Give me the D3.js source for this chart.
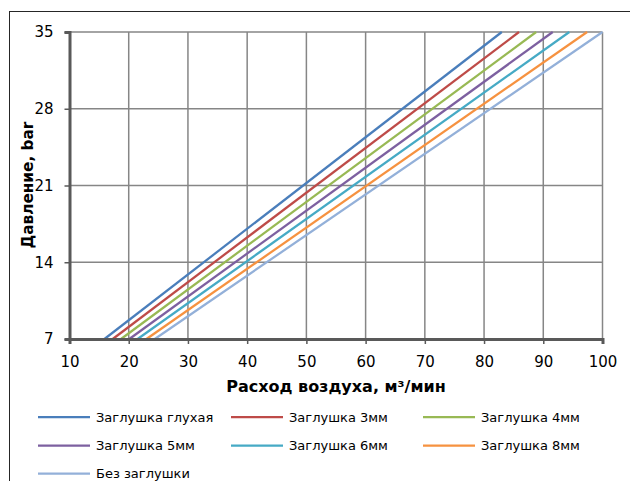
<!DOCTYPE html>
<html>
<head>
<meta charset="utf-8">
<script src="https://cdn.jsdelivr.net/npm/d3@7"></script>
<style>
  body { margin: 0; background: #fff; }
  svg { font-family: "DejaVu Sans", Verdana, sans-serif; }
</style>
</head>
<body>
<div id="chart"></div>
<script>
// series names, colours and flow (m3/min) at 7 bar and 35 bar
const seriesNames = ["Заглушка глухая", "Заглушка 3мм", "Заглушка 4мм", "Заглушка 5мм",
  "Заглушка 6мм", "Заглушка 8мм", "Без заглушки"];
const seriesColors = ["#4a7ebb", "#be4b48", "#98b954", "#7d60a0", "#46aac5", "#f69240", "#93b0d9"];
const pressures = [7, 35];
const flowAt7 = [15.9, 17.3, 18.7, 20.1, 21.5, 23.0, 24.4];
const flowAt35 = [83.0, 85.9, 88.8, 91.6, 94.4, 97.4, 100.0];
const xTicks = [10, 20, 30, 40, 50, 60, 70, 80, 90, 100];
const yTicks = [7, 14, 21, 28, 35];

const width = 630, height = 481;
const margin = { top: 32, right: 27.5, bottom: 142, left: 69.5 };

const svg = d3.select("#chart").append("svg")
  .attr("width", width)
  .attr("height", height);

// outer chart border (cut off on the right and bottom)
svg.append("rect")
  .attr("x", 9.5).attr("y", 11.5)
  .attr("width", 700).attr("height", 600)
  .attr("fill", "none").attr("stroke", "#262626").attr("stroke-width", 1);

const x = d3.scaleLinear().domain([10, 100]).range([margin.left, width - margin.right]);
const y = d3.scaleLinear().domain([7, 35]).range([height - margin.bottom, margin.top]);

// grid
svg.append("g").selectAll("line.v")
  .data(xTicks.slice(1))
  .join("line")
    .attr("x1", d => x(d)).attr("x2", d => x(d))
    .attr("y1", y(35)).attr("y2", y(7))
    .attr("stroke", "#868686").attr("stroke-width", 1.5);
svg.append("g").selectAll("line.h")
  .data(yTicks.slice(1))
  .join("line")
    .attr("x1", x(10)).attr("x2", x(100))
    .attr("y1", d => y(d)).attr("y2", d => y(d))
    .attr("stroke", "#868686").attr("stroke-width", 1.5);

// series lines
const series = seriesNames.map((name, i) => ({
  name, color: seriesColors[i],
  values: pressures.map((p, j) => ({ p, q: j === 0 ? flowAt7[i] : flowAt35[i] }))
}));

const line = d3.line().x(d => x(d.q)).y(d => y(d.p));
svg.append("g").selectAll("path")
  .data(series)
  .join("path")
    .attr("d", d => line(d.values))
    .attr("fill", "none")
    .attr("stroke", d => d.color)
    .attr("stroke-width", 2.25);

// axes
const xAxis = svg.append("g")
  .attr("transform", `translate(0,${y(7)})`)
  .call(d3.axisBottom(x).tickValues(xTicks).tickSize(5).tickPadding(12));
const yAxis = svg.append("g")
  .attr("transform", `translate(${x(10)},0)`)
  .call(d3.axisLeft(y).tickValues(yTicks).tickSize(5).tickPadding(11));

[xAxis, yAxis].forEach(g => {
  g.select(".domain").attr("stroke", "#595959").attr("stroke-width", 3);
  g.selectAll(".tick line").attr("stroke", "#595959").attr("stroke-width", 1.5);
  g.selectAll(".tick text")
    .attr("fill", "#000")
    .attr("font-size", "15px")
    .attr("font-family", "DejaVu Sans, sans-serif");
});

// axis titles
svg.append("text")
  .attr("x", (x(10) + x(100)) / 2)
  .attr("y", 391.5)
  .attr("text-anchor", "middle")
  .attr("font-weight", "bold")
  .attr("font-size", "16px")
  .text("Расход воздуха, м³/мин");

svg.append("text")
  .attr("transform", "translate(32.5,185) rotate(-90)")
  .attr("text-anchor", "middle")
  .attr("font-weight", "bold")
  .attr("font-size", "15.3px")
  .text("Давление, bar");

// legend
const legCols = [38, 231, 423];
const legRows = [417, 445.5, 473.5];
const legend = svg.append("g").selectAll("g")
  .data(series)
  .join("g")
    .attr("transform", (d, i) => `translate(${legCols[i % 3]},${legRows[Math.floor(i / 3)]})`);
legend.append("line")
  .attr("x1", 0).attr("x2", 52)
  .attr("stroke", d => d.color).attr("stroke-width", 2.25);
legend.append("text")
  .attr("x", 58).attr("dy", "0.35em")
  .attr("font-size", "13px")
  .text(d => d.name);
</script>
</body>
</html>
